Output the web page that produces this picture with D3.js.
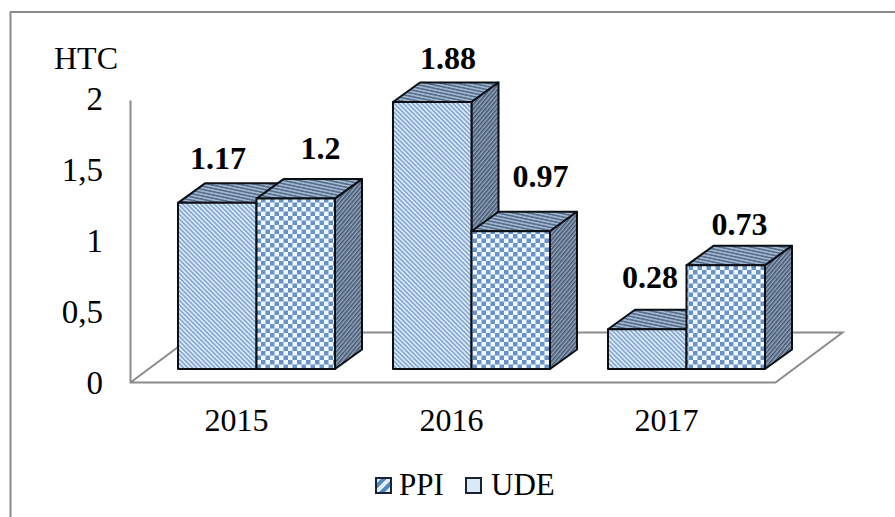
<!DOCTYPE html>
<html><head><meta charset="utf-8">
<script src="https://cdn.jsdelivr.net/npm/d3@7/dist/d3.min.js"></script>
<style>html,body{margin:0;padding:0;background:#fff}svg{display:block}text{font-family:"Liberation Serif","Times New Roman",serif;fill:#000}</style>
</head><body><svg id="c" width="895" height="517"></svg>
<script>
const years = ["2015","2016","2017"];
const seriesNames = ["PPI","UDE"];
const ppi = [1.17,1.88,0.28];
const ude = [1.2,0.97,0.73];
const ppiLabels = ["1.17","1.88","0.28"];
const udeLabels = ["1.2","0.97","0.73"];
const yTicks = [0,0.5,1,1.5,2];
const yTickLabels = ["0","0,5","1","1,5","2"];

const svg = d3.select("#c");
const defs = svg.append("defs");
function stripes(id,bg,fg,size,sw,angle){
  const p = defs.append("pattern").attr("id",id).attr("patternUnits","userSpaceOnUse")
    .attr("width",size).attr("height",size).attr("patternTransform",`rotate(${angle})`);
  p.append("rect").attr("width",size).attr("height",size).attr("fill",bg);
  p.append("rect").attr("width",sw).attr("height",size).attr("fill",fg);
}
function checks(id,bg,fg,s){
  const p = defs.append("pattern").attr("id",id).attr("patternUnits","userSpaceOnUse")
    .attr("width",s*2).attr("height",s*2);
  p.append("rect").attr("width",s*2).attr("height",s*2).attr("fill",bg);
  p.append("rect").attr("width",s).attr("height",s).attr("fill",fg);
  p.append("rect").attr("x",s).attr("y",s).attr("width",s).attr("height",s).attr("fill",fg);
}
stripes("ppiFront","#dbe8f5","#86a9d2",3.2,1.6,-45);
stripes("top","#a3b6cd","#566f8e",3.2,1.6,-78);
stripes("side","#93a6bd","#42556e",3,1.5,40);
checks("udeFront","#f2f8fd","#6593ca",4.5);
stripes("legendP","#e6f0fa","#4f86c6",8,4,45);

const yFloor = 369;
const y = d3.scaleLinear().domain([0,2]).range([0,284]);
const bandLeft = d3.scalePoint().domain(years).range([178,608]);
const bw = 78.5, dx = 27, dy = 19.5;
const depthDx = 67, depthDy = 50, axisY = 382.5, axisX = 130.5, floorRight = 775.5;

svg.append("path").attr("d","M10.5,517V12H895").attr("fill","none").attr("stroke","#8a8a8a").attr("stroke-width",2);

const axisCol = "#8c8c8c";
svg.append("path").attr("d",`M${axisX},${axisY-y(2)+2}V${axisY}H${floorRight}L${floorRight+depthDx},${axisY-depthDy}H${axisX+depthDx}L${axisX},${axisY}`)
  .attr("fill","none").attr("stroke",axisCol).attr("stroke-width",2);

svg.append("g").selectAll("text").data(yTicks).join("text")
  .attr("x",103).attr("y",d=>axisY-y(d)+11.5)
  .attr("text-anchor","end").attr("font-size",33)
  .text((d,i)=>yTickLabels[i]);
svg.append("text").attr("x",54).attr("y",69).attr("font-size",32).text("HTC");

function bar(g,xl,v,frontFill){
  const h = y(v), t = yFloor-h, r = xl+bw;
  g.append("path").attr("d",`M${xl},${t}L${xl+dx},${t-dy}H${r+dx}L${r},${t}Z`).attr("fill","url(#top)");
  g.append("path").attr("d",`M${r},${t}L${r+dx},${t-dy}V${yFloor-dy}L${r},${yFloor}Z`).attr("fill","url(#side)");
  g.append("rect").attr("x",xl).attr("y",t).attr("width",bw).attr("height",h).attr("fill",frontFill);
  g.selectAll("*").attr("stroke","#0b0f14").attr("stroke-width",2).attr("stroke-linejoin","round");
}
const gBars = svg.append("g");
years.forEach((yr,i)=>{
  const xl = bandLeft(yr);
  bar(gBars.append("g"),xl,ppi[i],"url(#ppiFront)");
  bar(gBars.append("g"),xl+bw,ude[i],"url(#udeFront)");
});

// hand-placed label nudges, as in the original (labels were moved by hand)
const ppiNudgeX = [40,55,42], ppiNudgeY = [-14,-14,-22];
const udeNudgeX = [64,69,53], udeNudgeY = [-20,-25,-11];
svg.append("g").selectAll("text").data(years).join("text")
  .attr("x",(d,i)=>bandLeft(d)+ppiNudgeX[i]).attr("y",(d,i)=>yFloor-y(ppi[i])-dy+ppiNudgeY[i])
  .attr("text-anchor","middle").attr("font-size",32).attr("font-weight","bold")
  .text((d,i)=>ppiLabels[i]);
svg.append("g").selectAll("text").data(years).join("text")
  .attr("x",(d,i)=>bandLeft(d)+bw+udeNudgeX[i]).attr("y",(d,i)=>yFloor-y(ude[i])-dy+udeNudgeY[i])
  .attr("text-anchor","middle").attr("font-size",32).attr("font-weight","bold")
  .text((d,i)=>udeLabels[i]);

svg.append("g").selectAll("text").data(years).join("text")
  .attr("x",d=>bandLeft(d)+58.5).attr("y",431)
  .attr("text-anchor","middle").attr("font-size",32).text(d=>d);

const lx = [376,466], ltx = [399,491];
const lfill = ["url(#legendP)","#dbe8f6"];
seriesNames.forEach((s,i)=>{
  svg.append("rect").attr("x",lx[i]).attr("y",478).attr("width",15).attr("height",15)
    .attr("fill",lfill[i]).attr("stroke","#1a2430").attr("stroke-width",2);
  svg.append("text").attr("x",ltx[i]).attr("y",495).attr("font-size",31).text(s);
});
</script></body></html>
